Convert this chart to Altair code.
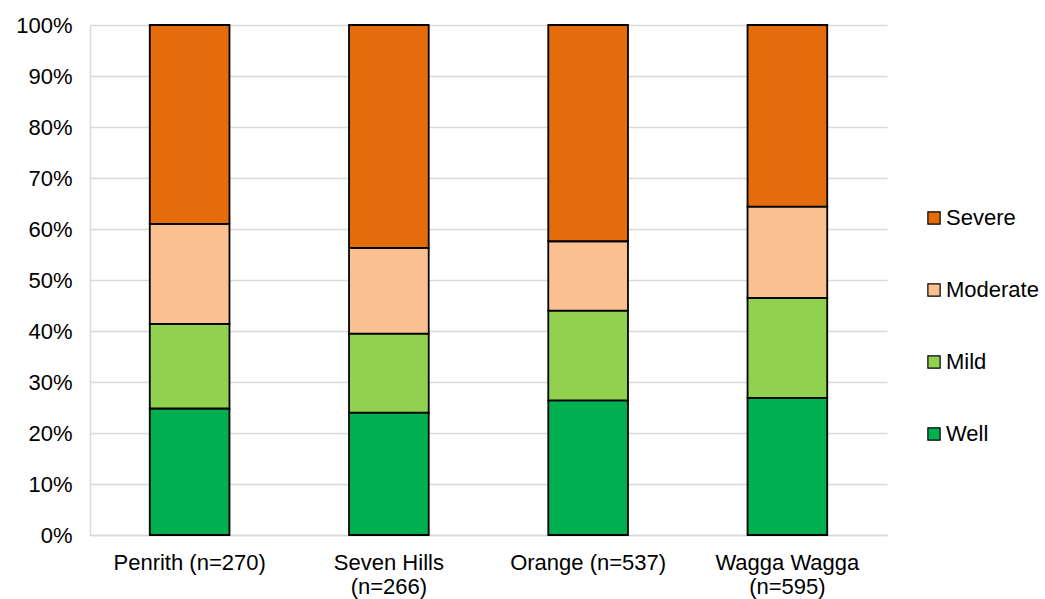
import altair as alt
import pandas as pd

sites = ["Penrith (n=270)", "Seven Hills|(n=266)", "Orange (n=537)", "Wagga Wagga|(n=595)"]
categories = ["Severe", "Moderate", "Mild", "Well"]
colors = ["#E46C0A", "#FAC090", "#92D050", "#00B050"]
stack_rank = {"Well": 1, "Mild": 2, "Moderate": 3, "Severe": 4}

well = [24.8, 24.0, 26.4, 26.9]
mild = [16.6, 15.5, 17.6, 19.6]
moderate = [19.6, 16.8, 13.6, 17.9]
severe = [39.0, 43.7, 42.4, 35.6]

series = {"Well": well, "Mild": mild, "Moderate": moderate, "Severe": severe}
rows = []
for cat, vals in series.items():
    for s, v in zip(sites, vals):
        rows.append({"site": s, "cat": cat, "value": v / 100.0, "rank": stack_rank[cat]})
df = pd.DataFrame(rows)

FONT = "Liberation Sans"

chart = alt.Chart(df).mark_bar(stroke="black", strokeWidth=1.8).encode(
    x=alt.X("site:N", sort=sites, title=None,
            scale=alt.Scale(paddingInner=0.6, paddingOuter=0.3),
            axis=alt.Axis(labelAngle=0, labelExpr="split(datum.label, '|')",
                          labelFontSize=22, labelFont=FONT, labelColor="black",
                          labelLineHeight=24, labelPadding=17, ticks=False,
                          domainColor="#d9d9d9", domainWidth=1.5)),
    y=alt.Y("value:Q", stack="zero", title=None,
            scale=alt.Scale(domain=[0, 1], nice=False),
            axis=alt.Axis(format=".0%", values=[i / 10 for i in range(11)],
                          labelFontSize=22, labelFont=FONT, labelColor="black",
                          labelPadding=18, ticks=False, gridColor="#d9d9d9",
                          gridWidth=1.5, domainColor="#d9d9d9", domainWidth=1.5)),
    color=alt.Color("cat:N", scale=alt.Scale(domain=categories, range=colors),
                    legend=alt.Legend(title=None, orient="none", legendX=833, legendY=182,
                                      symbolType="square", symbolSize=150,
                                      symbolStrokeColor="black", symbolStrokeWidth=1.2,
                                      labelFontSize=22, labelFont=FONT, labelColor="black",
                                      rowPadding=50, labelOffset=1)),
    order=alt.Order("rank:Q", sort="ascending"),
).properties(
    width=797, height=510,
    autosize=alt.AutoSizeParams(type="none"),
    padding={"left": 90, "top": 25, "right": 158, "bottom": 64},
).configure_view(stroke=None).configure_axis(grid=True).configure_axisX(grid=False)

chart.save("out.html", embed_options={"renderer": "svg", "actions": False})
